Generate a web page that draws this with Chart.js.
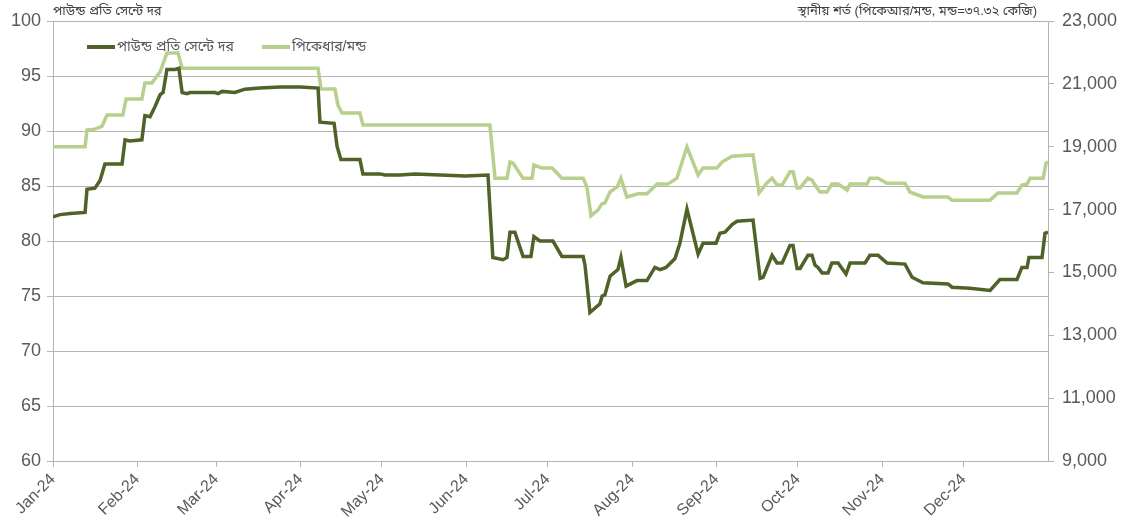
<!DOCTYPE html>
<html>
<head>
<meta charset="utf-8">
<script src="https://cdn.jsdelivr.net/npm/chart.js@4.4.1/dist/chart.umd.min.js"></script>
<style>
  html, body { margin: 0; padding: 0; background: #fff; }
  #wrap { width: 1125px; height: 526px; }
</style>
</head>
<body>
<div id="wrap"><canvas id="myChart" width="1125" height="526"></canvas></div>
<script>
// Axe des x : jours depuis le 1er janvier 2024
const monthStarts = [0, 31, 60, 91, 121, 152, 182, 213, 244, 274, 305, 335];
const monthLabels = ['Jan-24', 'Feb-24', 'Mar-24', 'Apr-24', 'May-24', 'Jun-24',
                     'Jul-24', 'Aug-24', 'Sep-24', 'Oct-24', 'Nov-24', 'Dec-24'];

// Série 1 : cents par livre (axe gauche)
const priceDays = [0, 2.6, 6.3, 11.8, 12.5, 15.4, 17.3, 19.1, 25.4, 26.5, 28.3, 32.7, 33.8, 35.7, 37.5, 39.4,
  40.5, 41.9, 44.9, 46.3, 47.5, 49.3, 50.4, 59.6, 60.7, 62.2, 66.9, 70.6, 76.1, 83.5, 90.9, 97.5, 98.2,
  103.4, 104.5, 105.9, 112.9, 114.0, 120.3, 122.1, 127.6, 133.2, 142.4, 151.6, 160.0, 161.8, 165.5, 167.0,
  168.1, 169.9, 172.9, 175.8, 176.9, 179.1, 183.9, 187.2, 192.0, 195.0, 195.7, 197.5, 201.2, 202.0, 203.0,
  204.9, 207.8, 208.9, 210.8, 214.8, 218.5, 221.4, 223.3, 225.5, 228.8, 230.6, 233.2, 237.3, 239.1, 243.9,
  245.3, 247.2, 249.8, 251.6, 257.5, 260.1, 261.2, 264.5, 266.3, 268.2, 271.1, 272.2, 273.7, 274.8, 277.7,
  279.2, 280.3, 281.4, 282.9, 285.1, 286.5, 288.8, 291.7, 293.2, 298.7, 300.5, 303.5, 306.8, 313.4, 316.0,
  320.0, 329.2, 330.7, 337.3, 344.7, 348.3, 354.6, 356.4, 358.3, 359.0, 363.8, 364.9, 366.0];
const priceValues = [82.2, 82.4, 82.5, 82.6, 84.7, 84.8, 85.5, 87.0, 87.0, 89.2, 89.1, 89.2, 91.4, 91.3, 92.2, 93.3,
  93.5, 95.6, 95.6, 95.7, 93.5, 93.4, 93.5, 93.5, 93.4, 93.6, 93.5, 93.8, 93.9, 94.0, 94.0, 93.9, 90.8,
  90.7, 88.6, 87.4, 87.4, 86.1, 86.1, 86.0, 86.0, 86.1, 86.0, 85.9, 86.0, 78.5, 78.3, 78.5,
  80.8, 80.8, 78.6, 78.6, 80.4, 80.0, 80.0, 78.6, 78.6, 78.6, 77.8, 73.5, 74.3, 75.0, 75.1,
  76.8, 77.4, 78.5, 75.9, 76.4, 76.4, 77.6, 77.4, 77.6, 78.4, 79.8, 82.9, 78.8, 79.8, 79.8,
  80.7, 80.8, 81.5, 81.8, 81.9, 76.6, 76.7, 78.7, 78.0, 78.0, 79.6, 79.6, 77.5, 77.5, 78.7,
  78.7, 77.8, 77.6, 77.1, 77.1, 78.0, 78.0, 77.0, 78.0, 78.0, 78.7, 78.7, 78.0, 77.9, 76.7,
  76.2, 76.1, 75.8, 75.7, 75.5, 76.5, 76.5, 77.6, 77.6, 78.5, 78.5, 80.7, 80.8];

// Série 2 : roupies par maund (axe droit)
const localDays = [0, 11.8, 12.5, 15.4, 18.0, 19.9, 25.7, 26.9, 32.7, 33.8, 36.4, 39.4, 41.9, 46.0, 47.5, 97.5,
  98.6, 103.7, 104.8, 106.3, 112.9, 114.0, 160.7, 162.6, 167.0, 168.1, 169.2, 172.9, 176.2, 176.9, 179.9,
  183.6, 187.2, 195.0, 196.4, 197.9, 200.5, 201.9, 203.0, 204.9, 207.5, 208.9, 211.1, 215.2, 218.5, 222.2,
  226.2, 229.5, 233.2, 237.3, 239.1, 244.2, 246.1, 249.8, 257.5, 259.7, 262.6, 264.5, 266.3, 268.2, 271.1,
  272.2, 273.7, 274.8, 277.7, 279.2, 280.3, 282.1, 284.7, 286.5, 288.8, 292.1, 293.2, 299.4, 300.5, 303.5,
  306.8, 313.4, 315.2, 320.0, 329.2, 330.7, 344.7, 347.6, 354.6, 356.4, 358.3, 359.4, 364.2, 365.3, 366.0];
const localValues = [19000, 19000, 19530, 19560, 19650, 20010, 20010, 20520, 20520, 21030, 21030, 21380, 21980, 21980, 21500, 21500,
  20840, 20840, 20330, 20070, 20070, 19690, 19690, 18000, 18000, 18510, 18480, 18000, 18000, 18420, 18320,
  18320, 18000, 18000, 17720, 16800, 16990, 17180, 17210, 17560, 17720, 18000, 17400, 17500, 17500, 17810,
  17810, 18000, 18990, 18100, 18320, 18320, 18510, 18700, 18740, 17530, 17850, 18000, 17780, 17780, 18200,
  18200, 17690, 17690, 18000, 17940, 17780, 17560, 17560, 17810, 17810, 17620, 17810, 17810, 18000, 18000,
  17840, 17840, 17560, 17400, 17400, 17300, 17300, 17530, 17530, 17780, 17810, 18000, 18000, 18480, 18510];

const seriesNames = ['পাউন্ড প্রতি সেন্টে দর', 'পিকেধার/মন্ড'];
const leftTitle = 'পাউন্ড প্রতি সেন্টে দর';
const rightTitle = 'স্থানীয় শর্ত (পিকেআর/মন্ড, মন্ড=৩৭.৩২ কেজি)';

const darkGreen = '#4f6228';
const lightGreen = '#b7d08e';
const gridGrey = '#b4b4b4';
const textGrey = '#595959';
const fontFamily = "'Liberation Sans', Arial, 'Noto Sans Bengali', sans-serif";

// Titres et légende dessinés sur le canvas
const extras = {
    id: 'extras',
    afterDraw(chart) {
        const c = chart.ctx;
        c.save();
        c.fillStyle = '#404040';
        c.font = '13px ' + fontFamily;
        c.textBaseline = 'middle';
        c.textAlign = 'left';
        c.fillText(leftTitle, 53, 11);
        c.textAlign = 'right';
        c.fillText(rightTitle, 1037, 11);

        const items = [
            { x: 87, color: darkGreen, label: seriesNames[0] },
            { x: 262, color: lightGreen, label: seriesNames[1] }
        ];
        c.font = '14px ' + fontFamily;
        c.textAlign = 'left';
        items.forEach(it => {
            c.strokeStyle = it.color;
            c.lineWidth = 4;
            c.beginPath();
            c.moveTo(it.x, 47);
            c.lineTo(it.x + 28, 47);
            c.stroke();
            c.fillStyle = textGrey;
            c.fillText(it.label, it.x + 30, 47);
        });
        c.restore();
    }
};

const ctx = document.getElementById('myChart').getContext('2d');
const myChart = new Chart(ctx, {
    type: 'line',
    data: {
        datasets: [{
            label: seriesNames[0],
            data: priceDays.map((d, i) => ({ x: d, y: priceValues[i] })),
            borderColor: darkGreen,
            borderWidth: 3.5,
            pointRadius: 0,
            yAxisID: 'y',
            order: 1
        }, {
            label: seriesNames[1],
            data: localDays.map((d, i) => ({ x: d, y: localValues[i] })),
            borderColor: lightGreen,
            borderWidth: 3.5,
            pointRadius: 0,
            yAxisID: 'y2',
            order: 2
        }]
    },
    options: {
        responsive: false,
        animation: false,
        layout: { padding: { top: 21, left: 0, right: 0, bottom: 0 } },
        plugins: {
            legend: { display: false },
            tooltip: { enabled: false }
        },
        scales: {
            x: {
                type: 'linear',
                min: 0,
                max: 366,
                afterBuildTicks: s => { s.ticks = monthStarts.map(v => ({ value: v })); },
                afterFit: s => { s.height = 65; },
                grid: { drawOnChartArea: false, drawTicks: true, tickLength: 6, color: gridGrey },
                border: { color: gridGrey },
                ticks: {
                    autoSkip: false,
                    maxRotation: 45,
                    minRotation: 45,
                    padding: 3,
                    color: textGrey,
                    font: { family: fontFamily, size: 16 },
                    callback: v => monthLabels[monthStarts.indexOf(v)]
                }
            },
            y: {
                position: 'left',
                min: 60,
                max: 100,
                afterFit: s => { s.width = 53; },
                grid: { color: gridGrey, tickLength: 6 },
                border: { color: gridGrey },
                ticks: {
                    stepSize: 5,
                    padding: 6,
                    color: textGrey,
                    font: { family: fontFamily, size: 18 }
                }
            },
            y2: {
                position: 'right',
                min: 9000,
                max: 23000,
                afterFit: s => { s.width = 77; },
                grid: { drawOnChartArea: false, tickLength: 6, color: gridGrey },
                border: { color: gridGrey },
                ticks: {
                    stepSize: 2000,
                    padding: 8,
                    color: textGrey,
                    font: { family: fontFamily, size: 18 },
                    callback: v => v.toLocaleString('en-US')
                }
            }
        }
    },
    plugins: [extras]
});
</script>
</body>
</html>
